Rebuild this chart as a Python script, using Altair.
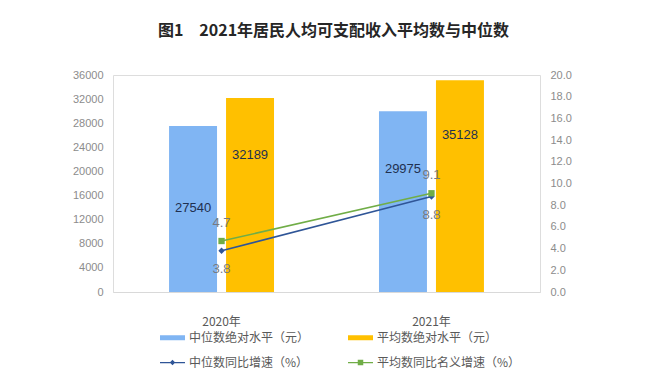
import altair as alt
import pandas as pd

years = ["2020年", "2021年"]
median_income = [27540, 29975]
mean_income = [32189, 35128]
median_growth = [3.8, 8.8]
mean_growth = [4.7, 9.1]

S1 = "中位数绝对水平（元）"
S2 = "平均数绝对水平（元）"
S3 = "中位数同比增速（%）"
S4 = "平均数同比名义增速（%）"
series_all = [S1, S2, S3, S4]
colors = ["#80B5F3", "#FFC000", "#2F5597", "#70AD47"]

left_ticks = list(range(0, 36001, 4000))
right_ticks = [0, 2, 4, 6, 8, 10, 12, 14, 16, 18, 20]

# label placement inside bars, as fraction of the bar height
bar_label_frac = [0.506, 0.706, 0.681, 0.741]

bars = pd.DataFrame({
    "year": years + years,
    "series": [S1, S1, S2, S2],
    "value": median_income + mean_income,
})
bars["label_y"] = bars["value"] * pd.Series([bar_label_frac[0], bar_label_frac[2], bar_label_frac[1], bar_label_frac[3]])

lines = pd.DataFrame({
    "year": years + years,
    "series": [S3, S3, S4, S4],
    "value": median_growth + mean_growth,
})

FONT = "Noto Sans CJK SC"
NUMF = "Liberation Sans"

color_scale = alt.Scale(domain=series_all, range=colors)
shape_scale = alt.Scale(
    domain=series_all,
    range=[
        "M-1,-0.2H1V0.2H-1Z",
        "M-1,-0.2H1V0.2H-1Z",
        "M-1,-0.05H1V0.05H-1Z M0,-0.22L0.22,0L0,0.22L-0.22,0Z",
        "M-1,-0.05H1V0.05H-1Z M-0.22,-0.22H0.22V0.22H-0.22Z",
    ],
)

x_axis = alt.Axis(
    labelAngle=0, ticks=False, domainColor="#D9D9D9", labelPadding=24,
    labelFont=FONT, labelFontSize=12, labelColor="#595959",
)
x_scale = alt.Scale(paddingInner=0.5, paddingOuter=0.267)


def X():
    return alt.X("year:N", sort=years, title=None, scale=x_scale, axis=x_axis)


xoff = alt.XOffset("series:N", sort=[S1, S2], scale=alt.Scale(paddingInner=0.158, paddingOuter=0))

yl_axis = alt.Axis(values=left_ticks, grid=False, ticks=False, domain=False, labelPadding=10,
                   labelOverlap=False, labelFont=NUMF, labelFontSize=11,
                   labelColor="#8C8C8C", format="d")
yl_scale = alt.Scale(domain=[0, 36000], nice=False)

yr_axis = alt.Axis(orient="right", values=right_ticks, grid=False, ticks=False, domain=False,
                   labelOverlap=False, labelPadding=10, labelFont=NUMF, labelFontSize=11,
                   labelColor="#8C8C8C", format=".1f")
yr_scale = alt.Scale(domain=[0, 20], nice=False)


def YR():
    return alt.Y("value:Q", title=None, scale=yr_scale, axis=yr_axis)


bar_layer = alt.Chart(bars).mark_bar().encode(
    x=X(),
    xOffset=xoff,
    y=alt.Y("value:Q", title=None, scale=yl_scale, axis=yl_axis),
    color=alt.Color("series:N", scale=color_scale, title=None,
                    legend=alt.Legend(
                        orient="none", legendX=47, legendY=250, columns=2, direction="horizontal",
                        columnPadding=38, rowPadding=6, padding=0,
                        symbolSize=625, symbolStrokeWidth=0,
                        labelFont=FONT, labelFontSize=12, labelColor="#595959", labelOffset=4,
                        labelLimit=300,
                    )),
)

bar_text = alt.Chart(bars).mark_text(font=NUMF, fontSize=13, color="#1F3050").encode(
    x=X(),
    xOffset=xoff,
    y=alt.Y("label_y:Q", title=None, scale=yl_scale, axis=yl_axis),
    text=alt.Text("value:Q", format="d"),
)

left = alt.layer(bar_layer, bar_text)

line_layer = alt.Chart(lines).mark_line(strokeWidth=1.5).encode(
    x=X(),
    y=YR(),
    color=alt.Color("series:N", scale=color_scale),
)

legend_dummy = alt.Chart(lines).transform_filter("false").mark_point(filled=True, opacity=1).encode(
    x=X(),
    y=YR(),
    color=alt.Color("series:N", scale=color_scale),
    shape=alt.Shape("series:N", scale=shape_scale),
)

pts_med = alt.Chart(lines).transform_filter(alt.datum.series == S3).mark_point(
    filled=True, shape="diamond", size=40, opacity=1).encode(
    x=X(),
    y=YR(),
    color=alt.Color("series:N", scale=color_scale),
)
pts_mean = alt.Chart(lines).transform_filter(alt.datum.series == S4).mark_point(
    filled=True, shape="square", size=40, opacity=1).encode(
    x=X(),
    y=YR(),
    color=alt.Color("series:N", scale=color_scale),
)

txt_med = alt.Chart(lines).transform_filter(alt.datum.series == S3).mark_text(
    font=NUMF, fontSize=13, color="#767A82", dy=18).encode(
    x=X(),
    y=YR(),
    text=alt.Text("value:Q", format=".1f"),
)
txt_mean = alt.Chart(lines).transform_filter(alt.datum.series == S4).mark_text(
    font=NUMF, fontSize=13, color="#767A82", dy=-18).encode(
    x=X(),
    y=YR(),
    text=alt.Text("value:Q", format=".1f"),
)

right = alt.layer(line_layer, legend_dummy, pts_med, pts_mean, txt_med, txt_mean)

chart = alt.layer(left, right).resolve_scale(y="independent").properties(
    width=427,
    height=217,
    autosize=alt.AutoSizeParams(type="none"),
    padding={"left": 105, "top": 67, "right": 103, "bottom": 98},
    title=alt.TitleParams(
        "图1　2021年居民人均可支配收入平均数与中位数",
        font=FONT, fontSize=16, fontWeight="bold", color="#262626",
        anchor="middle", offset=30, dx=7,
    ),
).configure_view(stroke=None).configure(background="white")

chart.save("out.html", embed_options={"renderer": "svg", "actions": False})
